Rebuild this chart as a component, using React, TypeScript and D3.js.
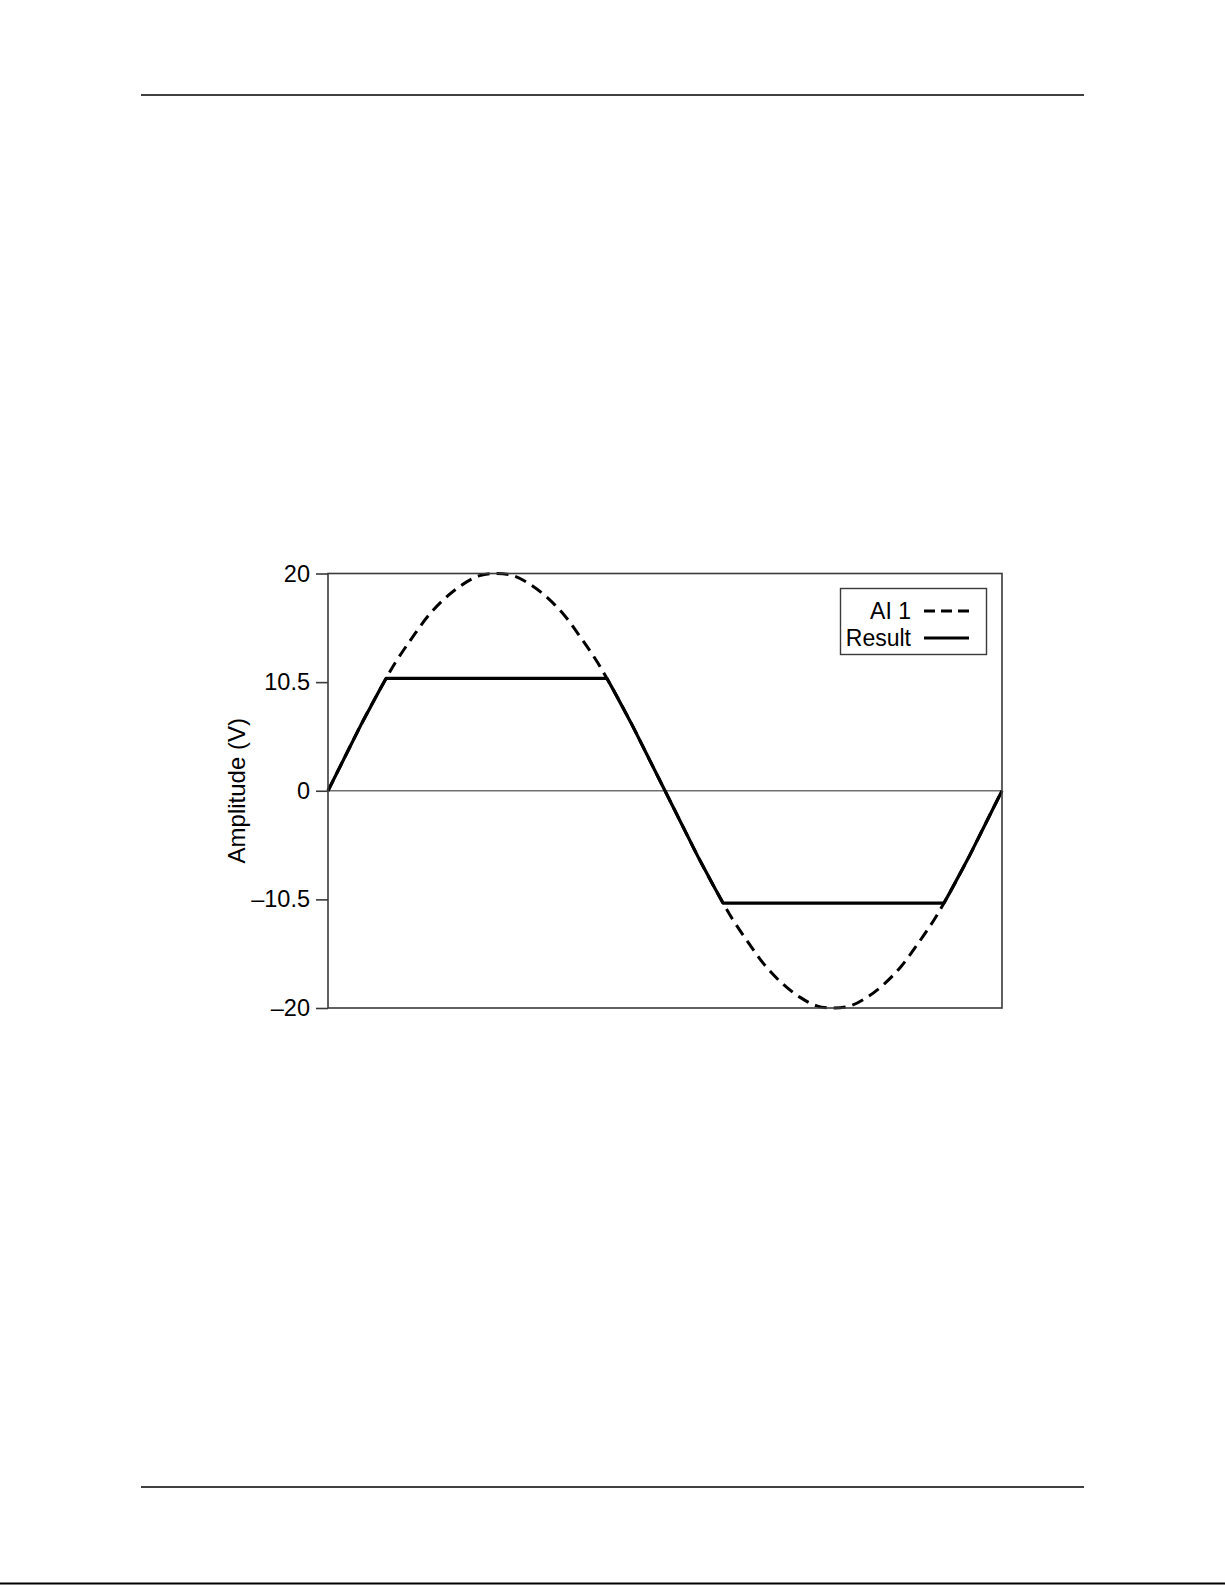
import * as d3 from "d3";
import { useEffect, useRef } from "react";

// AI 1 input (one period, sample index 0..40)
const ai1Time = [
  0, 1, 2, 3, 4, 5, 6, 7, 8, 9, 10, 11, 12, 13, 14, 15, 16, 17, 18, 19, 20,
  21, 22, 23, 24, 25, 26, 27, 28, 29, 30, 31, 32, 33, 34, 35, 36, 37, 38, 39, 40,
];
const ai1Values = [
  0, 3.1, 6.2, 9.1, 11.8, 14.1, 16.2, 17.8, 19.0, 19.8, 20, 19.8, 19.0, 17.8,
  16.2, 14.1, 11.8, 9.1, 6.2, 3.1, 0, -3.1, -6.2, -9.1, -11.8, -14.1, -16.2,
  -17.8, -19.0, -19.8, -20, -19.8, -19.0, -17.8, -16.2, -14.1, -11.8, -9.1,
  -6.2, -3.1, 0,
];

// clipped result
const resultTime = [
  0, 1, 2, 3, 3.45, 16.55, 17, 18, 19, 20, 21, 22, 23, 23.45, 36.55, 37, 38, 39, 40,
];
const resultValues = [
  0, 3.1, 6.2, 9.1, 10.35, 10.35, 9.1, 6.2, 3.1, 0, -3.1, -6.2, -9.1, -10.35,
  -10.35, -9.1, -6.2, -3.1, 0,
];

// the graph marks its ticks evenly and labels them like this
const yTickValues = [20, 10, 0, -10, -20];
const yTickLabels = ["20", "10.5", "0", "\u201310.5", "\u201320"];

const legendNames = ["AI 1", "Result"];

const W = 1225;
const H = 1585;

export default function App() {
  const ref = useRef<SVGSVGElement>(null);

  useEffect(() => {
    const svg = d3.select(ref.current);
    svg.selectAll("*").remove();

    const font = "Liberation Sans, Arial, sans-serif";
    const left = 328;
    const right = 1002;
    const top = 573.5;
    const bottom = 1008;

    // page rules
    svg.append("line").attr("x1", 141).attr("x2", 1084).attr("y1", 95).attr("y2", 95)
      .attr("stroke", "#000").attr("stroke-width", 1.5);
    svg.append("line").attr("x1", 141).attr("x2", 1084).attr("y1", 1487).attr("y2", 1487)
      .attr("stroke", "#000").attr("stroke-width", 1.5);
    svg.append("line").attr("x1", 0).attr("x2", W).attr("y1", 1583.5).attr("y2", 1583.5)
      .attr("stroke", "#000").attr("stroke-width", 2);

    const x = d3.scaleLinear().domain([0, 40]).range([left, right]);
    const y = d3.scaleLinear().domain([-20, 20]).range([bottom, top]);

    // zero line
    svg.append("line")
      .attr("x1", left).attr("x2", right)
      .attr("y1", y(0)).attr("y2", y(0))
      .attr("stroke", "#707070").attr("stroke-width", 1.6);

    const ai1 = ai1Time.map((t, i) => [t, ai1Values[i]] as [number, number]);
    const res = resultTime.map((t, i) => [t, resultValues[i]] as [number, number]);

    const smooth = d3.line<[number, number]>()
      .x((d) => x(d[0])).y((d) => y(d[1]))
      .curve(d3.curveCatmullRom);
    const clipped = d3.line<[number, number]>()
      .x((d) => x(d[0])).y((d) => y(d[1]));

    svg.append("path").attr("d", smooth(ai1))
      .attr("fill", "none").attr("stroke", "#000")
      .attr("stroke-width", 3).attr("stroke-dasharray", "12 7");

    svg.append("path").attr("d", clipped(res))
      .attr("fill", "none").attr("stroke", "#000")
      .attr("stroke-width", 3.2).attr("stroke-linejoin", "round");

    // frame
    svg.append("rect")
      .attr("x", left).attr("y", top)
      .attr("width", right - left).attr("height", bottom - top)
      .attr("fill", "none").attr("stroke", "#3a3a3a").attr("stroke-width", 1.6);

    // y axis
    const axis = svg.append("g")
      .attr("transform", `translate(${left},0)`)
      .call(
        d3.axisLeft(y)
          .tickValues(yTickValues)
          .tickSize(12)
          .tickPadding(6)
          .tickFormat((_, i) => yTickLabels[i])
      );
    axis.select(".domain").remove();
    axis.selectAll("line").attr("stroke", "#3a3a3a").attr("stroke-width", 1.6);
    axis.selectAll("text")
      .attr("font-family", font).attr("font-size", 23.5).attr("fill", "#000");

    svg.append("text")
      .attr("transform", `translate(245,${y(0)}) rotate(-90)`)
      .attr("text-anchor", "middle")
      .attr("font-family", font).attr("font-size", 24)
      .text("Amplitude (V)");

    // legend
    svg.append("rect")
      .attr("x", 840.5).attr("y", 588.5).attr("width", 146).attr("height", 66)
      .attr("fill", "#fff").attr("stroke", "#3a3a3a").attr("stroke-width", 1.4);
    const ly = [611, 638];
    svg.append("text").attr("x", 911).attr("y", ly[0] + 8).attr("text-anchor", "end")
      .attr("font-family", font).attr("font-size", 23).text(legendNames[0]);
    svg.append("text").attr("x", 911).attr("y", ly[1] + 8).attr("text-anchor", "end")
      .attr("font-family", font).attr("font-size", 23).text(legendNames[1]);
    svg.append("line").attr("x1", 924).attr("x2", 969).attr("y1", ly[0]).attr("y2", ly[0])
      .attr("stroke", "#000").attr("stroke-width", 3).attr("stroke-dasharray", "11 6");
    svg.append("line").attr("x1", 924).attr("x2", 969).attr("y1", ly[1]).attr("y2", ly[1])
      .attr("stroke", "#000").attr("stroke-width", 3.2);
  }, []);

  return (
    <svg
      ref={ref}
      width={W}
      height={H}
      viewBox={`0 0 ${W} ${H}`}
      style={{ position: "absolute", left: 0, top: 0, display: "block", background: "#fff" }}
    />
  );
}
